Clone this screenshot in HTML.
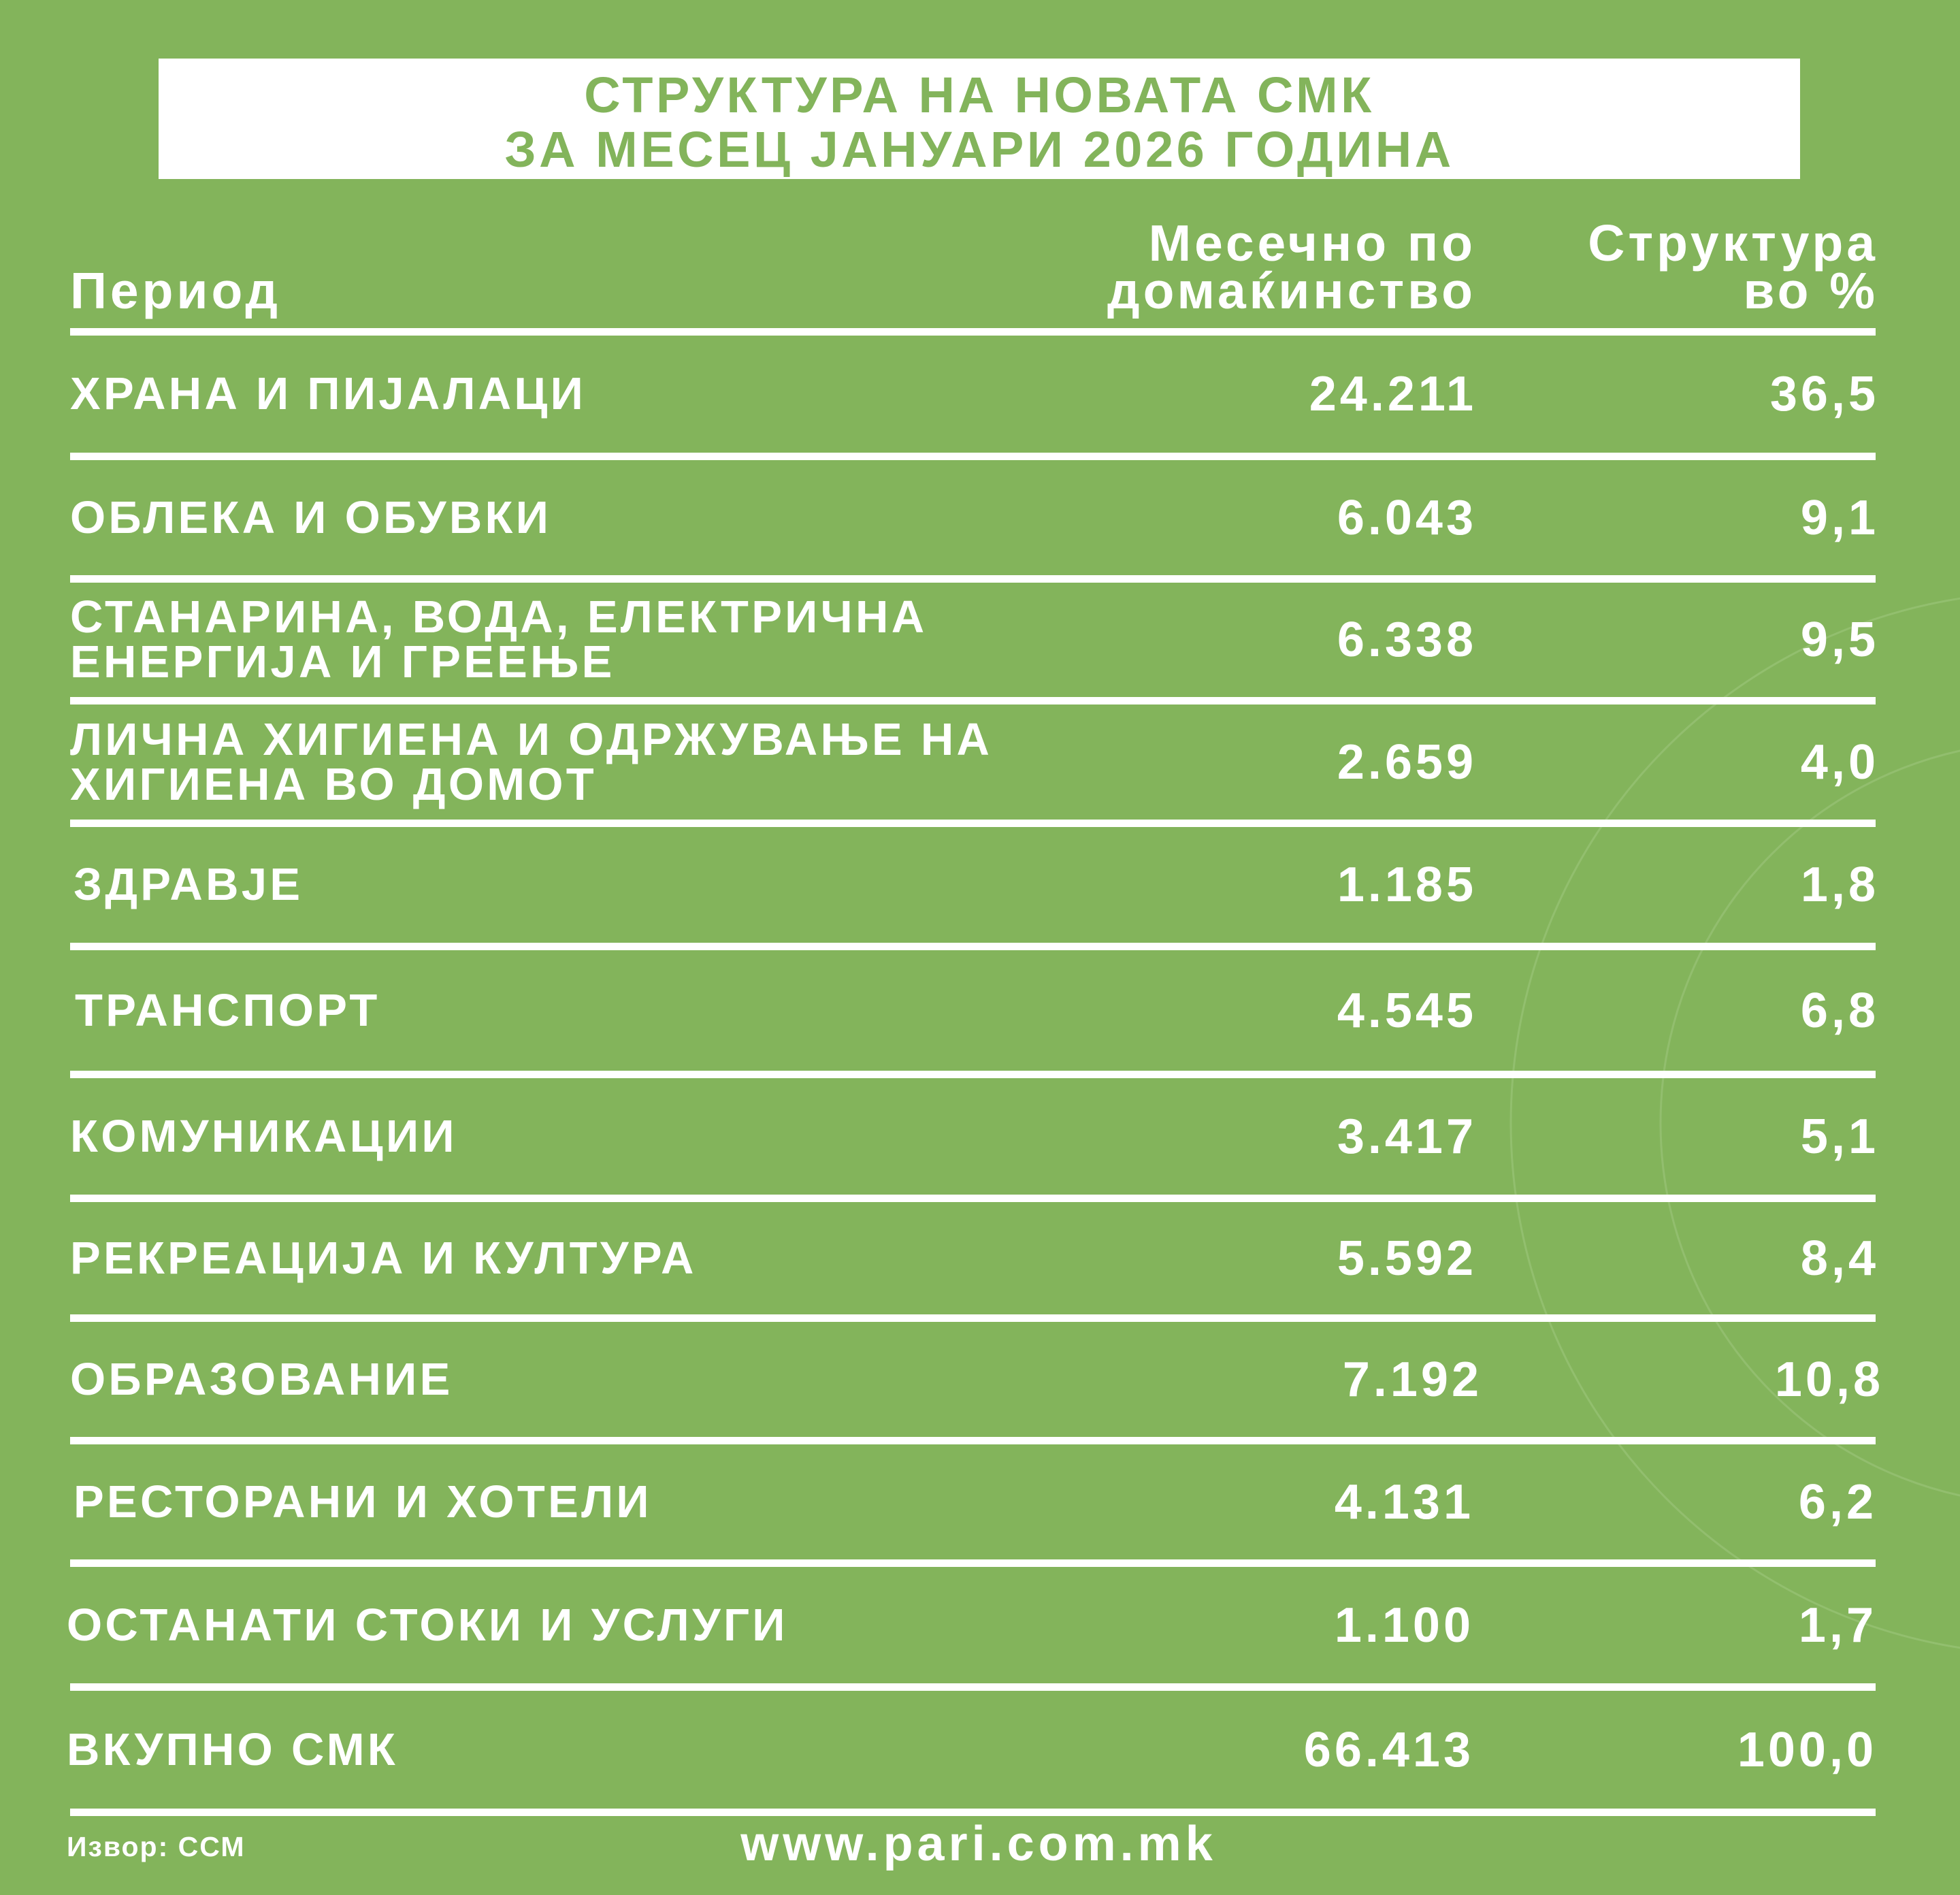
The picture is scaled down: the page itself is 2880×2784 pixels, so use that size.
<!DOCTYPE html>
<html><head><meta charset="utf-8"><style>
*{margin:0;padding:0;box-sizing:border-box}
body{width:2880px;height:2784px;background:#83b45b;position:relative;overflow:hidden;font-family:"Liberation Sans","DejaVu Sans",sans-serif;font-weight:bold;color:#fff}
.box{position:absolute;left:233px;top:86px;width:2412px;height:177px;background:#fff}
.t{position:absolute;left:233px;width:2412px;text-align:center;color:#83b45b;font-size:74px;line-height:80px;letter-spacing:4.5px}
.ln{position:absolute;left:103px;width:2653px;height:11px;background:#fff}
.row{position:absolute;left:0;width:2880px;display:flex;align-items:center}
.lab{position:absolute;left:103px;font-size:67px;line-height:66px;letter-spacing:4.3px}
.n{position:absolute;right:710px;font-size:72px;letter-spacing:5px}
.p{position:absolute;right:119px;font-size:72px;letter-spacing:5px}
.h{position:absolute;font-size:75px;line-height:70px;text-align:right;letter-spacing:5px}
</style></head><body>
<svg style="position:absolute;left:0;top:0" width="2880" height="2784"><g fill="none" stroke="#9cc67c" stroke-width="3" opacity=".6"><circle cx="3000" cy="1650" r="780"/><circle cx="3000" cy="1650" r="560"/></g></svg>
<div class="box"></div>
<div class="t" style="top:100px">СТРУКТУРА НА НОВАТА СМК</div>
<div class="t" style="top:180px">ЗА МЕСЕЦ ЈАНУАРИ 2026 ГОДИНА</div>
<div class="h" style="left:103px;top:392px;text-align:left">Период</div>
<div class="h" style="right:711px;top:322px">Месечно по<br>домаќинство</div>
<div class="h" style="right:120px;top:322px">Структура<br>во %</div>

<div class="ln" style="top:482px"></div>
<div class="ln" style="top:665px"></div>
<div class="ln" style="top:845px"></div>
<div class="ln" style="top:1024px"></div>
<div class="ln" style="top:1204px"></div>
<div class="ln" style="top:1385px"></div>
<div class="ln" style="top:1573px"></div>
<div class="ln" style="top:1755px"></div>
<div class="ln" style="top:1931px"></div>
<div class="ln" style="top:2111px"></div>
<div class="ln" style="top:2291px"></div>
<div class="ln" style="top:2473px"></div>
<div class="ln" style="top:2657px"></div>

<div class="row" style="top:493px;height:172px"><span class="lab">ХРАНА И ПИЈАЛАЦИ</span><span class="n">24.211</span><span class="p">36,5</span></div>
<div class="row" style="top:676px;height:169px"><span class="lab">ОБЛЕКА И ОБУВКИ</span><span class="n">6.043</span><span class="p">9,1</span></div>
<div class="row" style="top:856px;height:168px"><span class="lab">СТАНАРИНА, ВОДА, ЕЛЕКТРИЧНА<br>ЕНЕРГИЈА И ГРЕЕЊЕ</span><span class="n">6.338</span><span class="p">9,5</span></div>
<div class="row" style="top:1035px;height:169px"><span class="lab">ЛИЧНА ХИГИЕНА И ОДРЖУВАЊЕ НА<br>ХИГИЕНА ВО ДОМОТ</span><span class="n">2.659</span><span class="p">4,0</span></div>
<div class="row" style="top:1215px;height:170px"><span class="lab" style="left:108px">ЗДРАВЈЕ</span><span class="n">1.185</span><span class="p">1,8</span></div>
<div class="row" style="top:1396px;height:177px"><span class="lab" style="left:110px">ТРАНСПОРТ</span><span class="n">4.545</span><span class="p">6,8</span></div>
<div class="row" style="top:1584px;height:171px"><span class="lab">КОМУНИКАЦИИ</span><span class="n">3.417</span><span class="p">5,1</span></div>
<div class="row" style="top:1766px;height:165px"><span class="lab">РЕКРЕАЦИЈА И КУЛТУРА</span><span class="n">5.592</span><span class="p">8,4</span></div>
<div class="row" style="top:1942px;height:169px"><span class="lab">ОБРАЗОВАНИЕ</span><span class="n" style="right:702px">7.192</span><span class="p" style="right:112px">10,8</span></div>
<div class="row" style="top:2122px;height:169px"><span class="lab" style="left:108px">РЕСТОРАНИ И ХОТЕЛИ</span><span class="n" style="right:714px">4.131</span><span class="p" style="right:122px">6,2</span></div>
<div class="row" style="top:2302px;height:171px"><span class="lab" style="left:98px">ОСТАНАТИ СТОКИ И УСЛУГИ</span><span class="n" style="right:714px">1.100</span><span class="p" style="right:122px">1,7</span></div>
<div class="row" style="top:2484px;height:173px"><span class="lab" style="left:98px">ВКУПНО СМК</span><span class="n" style="right:714px">66.413</span><span class="p" style="right:122px">100,0</span></div>

<div style="position:absolute;left:98px;top:2690px;font-size:41px;letter-spacing:2px">Извор: ССМ</div>
<div style="position:absolute;left:0;width:2876px;text-align:center;top:2668px;font-size:72px;letter-spacing:6px">www.pari.com.mk</div>
</body></html>
